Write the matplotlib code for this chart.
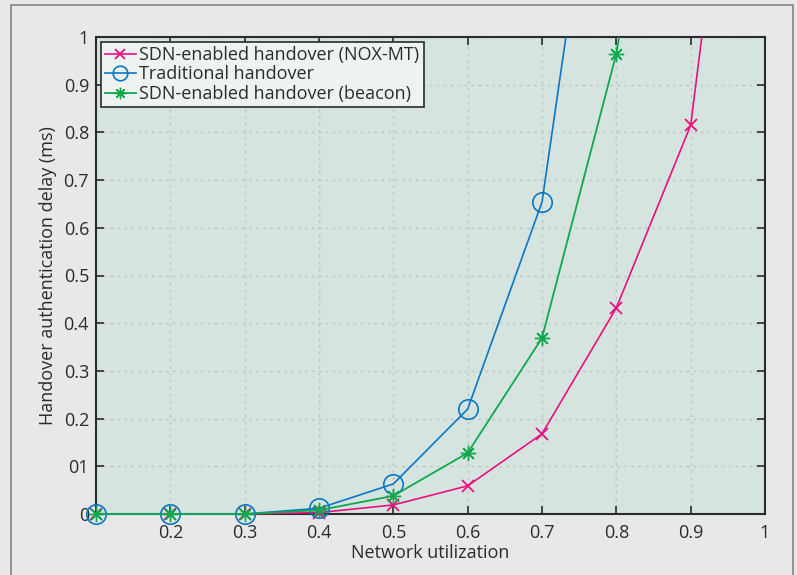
import numpy as np
import matplotlib
matplotlib.use('Agg')
import matplotlib.pyplot as plt
from matplotlib.patches import Rectangle

plt.rcParams['font.family'] = ['Open Sans', 'DejaVu Sans']

# network utilization
util = [0.1, 0.2, 0.3, 0.4, 0.5, 0.6, 0.7, 0.8, 0.9, 1.0]
# delays (last point of each series lies above the top)
nox_mt = [0, 0, 0, 0.003, 0.019, 0.059, 0.168, 0.432, 0.815, 2.05]
traditional = [0, 0, 0, 0.012, 0.063, 0.22, 0.654, 1.73]
beacon = [0, 0, 0, 0.008, 0.038, 0.128, 0.369, 0.965, 1.9]

labels = ['SDN-enabled handover (NOX-MT)', 'Traditional handover', 'SDN-enabled handover (beacon)']
xtick_vals = [0.2, 0.3, 0.4, 0.5, 0.6, 0.7, 0.8, 0.9, 1.0]
xtick_labels = ['0.2', '0.3', '0.4', '0.5', '0.6', '0.7', '0.8', '0.9', '1']
ytick_vals = [0, 0.1, 0.2, 0.3, 0.4, 0.5, 0.6, 0.7, 0.8, 0.9, 1.0]
ytick_labels = ['0', '01', '0.2', '0.3', '0.4', '0.5', '0.6', '0.7', '0.8', '0.9', '1']

pink = '#e8117f'
blue = '#0a77c4'
green = '#10a84e'
dark = '#2b2b2b'
fs = 13

fig = plt.figure(figsize=(7.97, 5.75), dpi=100, facecolor='#e7e8ea')
# outer frame
fig.patches.append(Rectangle((11 / 797, -0.02), (793 - 11) / 797, 1.02 - 5 / 575,
                             transform=fig.transFigure, fill=False,
                             edgecolor='#8a8a8a', linewidth=1.3))

ax = fig.add_axes([96 / 797, 61 / 575, 669 / 797, 477 / 575])
ax.set_facecolor('#d6e4e0')

# clip only at the top so the markers on the axes stay whole
clip = Rectangle((-0.1, -0.1), 1.2, 1.1, transform=ax.transAxes, visible=False)
ax.add_patch(clip)

l1, = ax.plot(util[:len(nox_mt)], nox_mt, color=pink, marker='x', ms=9, mew=1.3,
              lw=1.2, label=labels[0], zorder=3)
l2, = ax.plot(util[:len(traditional)], traditional, color=blue, marker='o', ms=14,
              mfc='none', mew=1.2, lw=1.2, label=labels[1], zorder=4)
l3, = ax.plot(util[:len(beacon)], beacon, color=green, marker=(8, 2, 0), ms=11,
              mew=1.0, lw=1.3, label=labels[2], zorder=5)
for ln in (l1, l2, l3):
    ln.set_clip_path(clip)

ax.set_xlim(0.1, 1.0)
ax.set_ylim(0, 1.0)
ax.set_xticks(xtick_vals)
ax.set_xticklabels(xtick_labels)
ax.set_yticks(ytick_vals)
ax.set_yticklabels(ytick_labels)
ax.tick_params(direction='in', top=True, right=True, length=6, width=1.2,
               colors=dark, labelsize=fs, pad=5)
ax.tick_params(axis='x', pad=7)
for s in ax.spines.values():
    s.set_color(dark)
    s.set_linewidth(1.5)
ax.grid(True, linestyle=(0, (2, 3)), color='#c4c4c4', linewidth=1.0)
ax.set_axisbelow(True)

ax.set_xlabel('Network utilization', fontsize=fs, color=dark, labelpad=2)
ax.set_ylabel('Handover authentication delay (ms)', fontsize=fs, color=dark, labelpad=5)

leg = ax.legend(loc='upper left', fontsize=fs, frameon=True, fancybox=False,
                handlelength=1.7, handletextpad=0.2, labelspacing=0.08,
                borderpad=0.25, borderaxespad=0.25, markerscale=0.75)
leg.get_frame().set_edgecolor(dark)
leg.get_frame().set_facecolor('#eef3f2')
leg.get_frame().set_alpha(1)
leg.get_frame().set_linewidth(1.2)
for t in leg.get_texts():
    t.set_color(dark)

fig.savefig('out.png', dpi=100, facecolor=fig.get_facecolor())
